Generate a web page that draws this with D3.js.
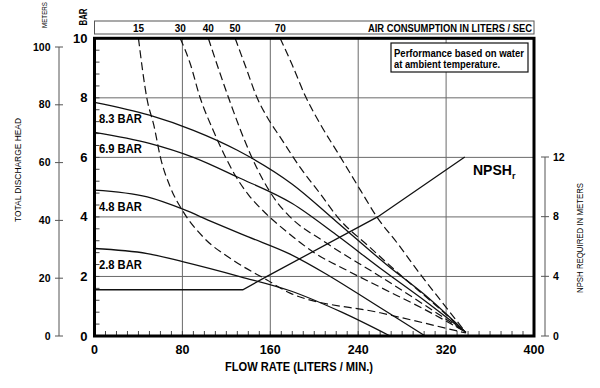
<!DOCTYPE html>
<html><head><meta charset="utf-8">
<script src="https://cdn.jsdelivr.net/npm/d3@7"></script>
<style>body{margin:0;background:#fff}svg{display:block}</style>
</head><body>
<svg id="chart" width="600" height="388"></svg>
<script>
// ---- data ----
const flowTicks = [0, 80, 160, 240, 320, 400];
const barTicks = [0, 2, 4, 6, 8, 10];
const meterTicks = [0, 20, 40, 60, 80, 100];
const npshTicks = [0, 4, 8, 12];
const airLabels = ["15", "30", "40", "50", "70"];
const pressureLabels = ["8.3 BAR", "6.9 BAR", "4.8 BAR", "2.8 BAR"];

// pump performance curves: [flow L/min, discharge pressure bar]
const bar83 = [[0,7.85],[50,7.42],[90,6.91],[130,6.24],[180,5.1],[220,3.85],[269,2.3],[300,1.4],[338,0.12]];
const bar69 = [[0,6.84],[50,6.47],[90,6.0],[130,5.34],[180,4.45],[220,3.4],[261,2.25],[300,1.2],[338,0.12]];
const bar48 = [[0,4.9],[48,4.67],[81,4.25],[105,3.87],[140,3.33],[178,2.75],[210,2.1],[240,1.42],[270,0.72],[301,0]];
const bar28 = [[0,2.94],[48,2.77],[81,2.49],[133,1.99],[178,1.52],[225,0.8],[269,0]];

// air consumption curves (L/sec): [flow L/min, pressure bar]
const air15 = [[40,10],[48,7.92],[54,7.08],[60,6.0],[69,5.0],[81,4.16],[99,3.32],[126,2.55],[157,1.88],[178,1.44],[260,0.78],[338,0.1]];
const air30 = [[78,10],[87,9.16],[96,8.02],[108,6.91],[118,6.1],[128,5.4],[140,4.75],[155,4.15],[175,3.5],[200,2.8],[230,2.2],[260,1.64],[300,0.9],[338,0.13]];
const air40 = [[103.6,10],[114,8.85],[123,7.9],[132,7.0],[142,6.1],[154,5.2],[166,4.5],[178,4.0],[210,3.15],[260,2.0],[300,1.05],[338,0.12]];
const air50 = [[128,10],[138,9.0],[148,8.0],[158,7.3],[169,6.68],[187,5.67],[205,4.8],[222,3.96],[250,3.0],[280,2.0],[310,1.05],[338,0.12]];
const air70 = [[169,10],[180,9.1],[192,8.05],[205,7.15],[224,6.0],[242,4.9],[257,4.0],[276,3.1],[296,2.1],[316,1.15],[338,0.12]];

// NPSH required: [flow L/min, meters]
const npshR = [[0,3.1],[135,3.1],[157,4.0],[258,8.0],[337,12]];

// ---- drawing ----
const FONT = "'Liberation Sans Narrow','Arial Narrow','Liberation Sans',Arial,sans-serif";
const svg = d3.select("#chart");
svg.append("rect").attr("width",600).attr("height",388).attr("fill","#fff");

const x = d3.scaleLinear().domain([0,400]).range([94.5,534]);
const y = d3.scaleLinear().domain([0,10]).range([336,38.3]);
const yM = d3.scaleLinear().domain([0,100]).range([336,47]);
const yN = d3.scaleLinear().domain([0,12]).range([336,157]);

const grid = svg.append("g").attr("stroke","#6a6a6a").attr("stroke-width",1);
grid.selectAll("line.v").data(flowTicks.slice(1,-1)).join("line")
  .attr("x1",d=>x(d)).attr("x2",d=>x(d)).attr("y1",y(10)).attr("y2",y(0));
grid.selectAll("line.h").data(barTicks.slice(1,-1)).join("line")
  .attr("x1",x(0)).attr("x2",x(400)).attr("y1",d=>y(d)).attr("y2",d=>y(d));

// minor ticks
const minor = svg.append("g").attr("stroke","#444").attr("stroke-width",1);
minor.selectAll("line.bx").data(d3.range(10,400,10)).join("line")
  .attr("x1",d=>x(d)).attr("x2",d=>x(d)).attr("y1",y(0)).attr("y2",y(0)-5);
minor.selectAll("line.ly").data(d3.range(1,25).map(i=>i*0.4)).join("line")
  .attr("x1",x(0)).attr("x2",x(0)+5).attr("y1",d=>y(d)).attr("y2",d=>y(d));

const line = d3.line().x(d=>x(d[0])).y(d=>y(d[1])).curve(d3.curveMonotoneX);
const lineN = d3.line().x(d=>x(d[0])).y(d=>yN(d[1]));

const curves = svg.append("g").attr("fill","none").attr("stroke","#111");
[bar83,bar69,bar48,bar28].forEach(s=>curves.append("path").attr("d",line(s)).attr("stroke-width",1.3));
[air15,air30,air40,air50,air70].forEach(s=>curves.append("path").attr("d",line(s)).attr("stroke-width",1.2).attr("stroke-dasharray","8,4"));
curves.append("path").attr("d",lineN(npshR)).attr("stroke-width",1.3);

// main border
svg.append("rect").attr("x",x(0)).attr("y",y(10)).attr("width",x(400)-x(0)).attr("height",y(0)-y(10))
  .attr("fill","none").attr("stroke","#000").attr("stroke-width",3);

// air consumption box
svg.append("rect").attr("x",x(0)).attr("y",21).attr("width",x(400)-x(0)).attr("height",13)
  .attr("fill","none").attr("stroke","#555").attr("stroke-width",1);
const airStarts = [air15,air30,air40,air50,air70].map(s=>s[0][0]);
svg.selectAll("text.air").data(airLabels).join("text")
  .attr("x",(d,i)=>x(airStarts[i])).attr("y",31.5).attr("text-anchor","middle")
  .attr("font-family",FONT).attr("font-weight","bold").attr("font-size",10).text(d=>d);
svg.append("text").attr("x",532).attr("y",31.5).attr("text-anchor","end")
  .attr("font-family",FONT).attr("font-weight","bold").attr("font-size",10)
  .attr("textLength",164).attr("lengthAdjust","spacingAndGlyphs").text("AIR CONSUMPTION IN LITERS / SEC");

// note box
svg.append("rect").attr("x",391).attr("y",43).attr("width",137).attr("height",29)
  .attr("fill","#fff").attr("stroke","#111").attr("stroke-width",1.2);
svg.append("text").attr("x",394).attr("y",56.5).attr("font-family",FONT).attr("font-weight","bold").attr("font-size",10)
  .attr("textLength",130).attr("lengthAdjust","spacingAndGlyphs").text("Performance based on water");
svg.append("text").attr("x",394).attr("y",67.5).attr("font-family",FONT).attr("font-weight","bold").attr("font-size",10)
  .attr("textLength",106).attr("lengthAdjust","spacingAndGlyphs").text("at ambient temperature.");

// pressure labels
const starts = [bar83,bar69,bar48,bar28].map(s=>s[0][1]);
svg.selectAll("text.pl").data(pressureLabels).join("text")
  .attr("x",x(4)).attr("y",(d,i)=>y(starts[i])+21)
  .attr("font-family",FONT).attr("font-weight","bold").attr("font-size",13)
  .attr("textLength",43).attr("lengthAdjust","spacingAndGlyphs").text(d=>d);

// NPSHr label
const nt = svg.append("text").attr("x",473).attr("y",175).attr("font-family",FONT).attr("font-weight","bold").attr("font-size",14);
nt.append("tspan").text("NPSH");
nt.append("tspan").attr("font-size",9).attr("dy",4).text("r");

// bar axis labels
svg.selectAll("text.bt").data(barTicks).join("text")
  .attr("x",87.5).attr("y",d=>y(d)+4.5).attr("text-anchor","end")
  .attr("font-family",FONT).attr("font-weight","bold").attr("font-size",13).text(d=>d);
// flow axis labels
svg.selectAll("text.ft").data(flowTicks).join("text")
  .attr("x",d=>x(d)).attr("y",353.5).attr("text-anchor","middle")
  .attr("font-family",FONT).attr("font-weight","bold").attr("font-size",12.5).text(d=>d);
svg.append("text").attr("x",299).attr("y",370.5).attr("text-anchor","middle")
  .attr("font-family",FONT).attr("font-weight","bold").attr("font-size",12.5)
  .attr("textLength",148).attr("lengthAdjust","spacingAndGlyphs").text("FLOW RATE (LITERS / MIN.)");

// meters axis
const gm = svg.append("g");
gm.append("line").attr("x1",59).attr("x2",59).attr("y1",yM(100)).attr("y2",yM(0)).attr("stroke","#555");
gm.selectAll("line.t").data(meterTicks).join("line").attr("x1",55).attr("x2",63)
  .attr("y1",d=>yM(d)).attr("y2",d=>yM(d)).attr("stroke","#555");
gm.selectAll("text").data(meterTicks).join("text").attr("x",50.5).attr("y",d=>yM(d)+3.5).attr("text-anchor","end")
  .attr("font-family",FONT).attr("font-weight","bold").attr("font-size",10.5).text(d=>d);

// NPSH axis
const gn = svg.append("g");
gn.append("line").attr("x1",545).attr("x2",545).attr("y1",yN(12)).attr("y2",yN(0)).attr("stroke","#555");
gn.selectAll("line.t").data(npshTicks).join("line").attr("x1",541).attr("x2",549)
  .attr("y1",d=>yN(d)).attr("y2",d=>yN(d)).attr("stroke","#555");
gn.selectAll("text").data(npshTicks).join("text").attr("x",553).attr("y",d=>yN(d)+3.5)
  .attr("font-family",FONT).attr("font-weight","bold").attr("font-size",10.5).text(d=>d);

// rotated titles
function vtext(cx, cy, str, size, weight, len){
  svg.append("text").attr("transform",`translate(${cx},${cy}) rotate(-90)`)
    .attr("text-anchor","middle").attr("dy","0.35em")
    .attr("font-family",FONT).attr("font-weight",weight).attr("font-size",size)
    .attr("textLength",len).attr("lengthAdjust","spacingAndGlyphs").text(str);
}
vtext(45,15,"METERS",7,"normal",26);
vtext(83,17,"BAR",10,"bold",17);
vtext(18,170,"TOTAL DISCHARGE HEAD",9,"normal",104);
vtext(580,238,"NPSH REQUIRED IN METERS",9,"normal",110);
</script>
</body></html>
